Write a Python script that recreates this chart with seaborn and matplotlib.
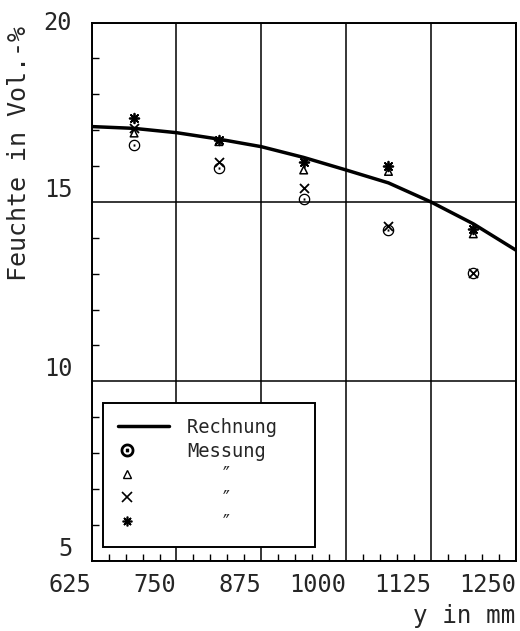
import pandas as pd
import matplotlib.pyplot as plt
import seaborn as sns
from matplotlib.lines import Line2D
from matplotlib.legend_handler import HandlerLine2D
from matplotlib.ticker import MultipleLocator

# Rechnung (calculated curve)
x_calc = [625, 687.5, 750, 812.5, 875, 937.5, 1000, 1062.5, 1125, 1187.5, 1250]
y_calc = [17.1, 17.05, 16.93, 16.75, 16.54, 16.24, 15.89, 15.53, 15.0, 14.39, 13.66]

# Messung (measured points), four series
x_meas = [687.5, 812.5, 937.5, 1062.5, 1187.5]
y_circle = [16.59, 15.94, 15.08, 14.22, 13.02]
y_triangle = [16.92, 16.68, 15.89, 15.85, 14.11]
y_cross = [17.06, 16.12, 15.39, 14.33, 13.02]
y_star = [17.34, 16.73, 16.11, 16.0, 14.25]

x_ticks = [625, 750, 875, 1000, 1125, 1250]
y_ticks = [5, 10, 15, 20]


class LeftMarkerHandler(HandlerLine2D):
    # single legend marker drawn near the left end of the handle box
    def get_xdata(self, legend, xdescent, ydescent, width, height, fontsize):
        m = 0.18 * width - xdescent
        return [m - 1, m + 1], [m]


sns.set_style('white')
plt.rcParams['font.family'] = ['DejaVu Sans Mono', 'DejaVu Sans']

fig = plt.figure(figsize=(5.2, 6.31), dpi=100)
ax = fig.add_axes([0.1763, 0.1114, 0.8154, 0.8529])

calc = pd.DataFrame({'y': x_calc, 'feuchte': y_calc})
sns.lineplot(data=calc, x='y', y='feuchte', color='black', lw=2.5, ax=ax)

star_marker = (8, 2, 0)
sns.scatterplot(x=x_meas, y=y_circle, marker=r'$\odot$', s=70, color='black',
                edgecolor='black', linewidth=0, ax=ax, zorder=3)
sns.scatterplot(x=x_meas, y=y_triangle, marker='^', s=30, facecolor='none',
                edgecolor='black', linewidth=1.1, ax=ax, zorder=3)
sns.scatterplot(x=x_meas, y=y_cross, marker='x', s=42, color='black',
                linewidth=1.3, ax=ax, zorder=3)
sns.scatterplot(x=x_meas, y=y_star, marker=star_marker, s=48, color='black',
                linewidth=1.3, ax=ax, zorder=3)

ax.set_xlim(625, 1250)
ax.set_ylim(5, 20)
ax.set_xticks(x_ticks)
ax.set_yticks(y_ticks)
ax.xaxis.set_minor_locator(MultipleLocator(25))
ax.yaxis.set_minor_locator(MultipleLocator(1))
ax.grid(True, which='major', color='black', lw=1.1)
ax.tick_params(which='both', direction='in', bottom=True, left=True, top=False, right=False)
ax.tick_params(which='major', length=0, labelsize=17)
ax.tick_params(axis='x', which='major', pad=9)
ax.tick_params(axis='y', which='major', pad=14)
ax.tick_params(which='minor', length=5, width=1, color='black')
for sp in ax.spines.values():
    sp.set_color('black')
    sp.set_linewidth(1.4)

for lbl in ax.get_xticklabels():
    lbl.set_ha('right')
for lbl in ax.get_yticklabels():
    lbl.set_va('bottom')
ax.get_yticklabels()[-1].set_va('center')

ax.set_xlabel('y in mm', fontsize=17.5)
ax.xaxis.set_label_coords(1.0, -0.08)
ax.xaxis.label.set_ha('right')
ax.set_ylabel('Feuchte in Vol.-%', fontsize=18)
ax.yaxis.set_label_coords(-0.143, 0.757)

handles = [
    Line2D([], [], color='black', lw=2.5),
    Line2D([], [], ls='', marker=r'$\odot$', ms=9, color='black'),
    Line2D([], [], ls='', marker='^', ms=6, mfc='none', mec='black', mew=1),
    Line2D([], [], ls='', marker='x', ms=7, mec='black', mew=1.2),
    Line2D([], [], ls='', marker=star_marker, ms=7, mec='black', mew=1.2),
]
labels = ['Rechnung  ', 'Messung', '   \u2033', '   \u2033', '   \u2033']
hmap = {h: LeftMarkerHandler(numpoints=1) for h in handles[1:]}
leg = ax.legend(handles, labels, handler_map=hmap, loc='lower left',
                bbox_to_anchor=(0.027, 0.026), borderaxespad=0, fontsize=13.5,
                frameon=True, fancybox=False, edgecolor='black', framealpha=1,
                handlelength=2.7, handletextpad=1.0, labelspacing=0.25,
                borderpad=0.8)
leg.get_frame().set_linewidth(1.4)

fig.savefig('out.png', dpi=100)
